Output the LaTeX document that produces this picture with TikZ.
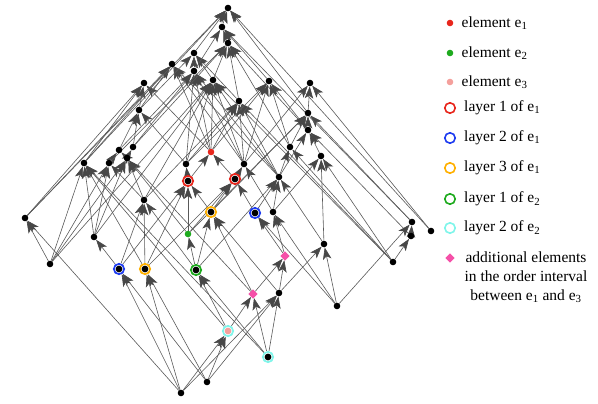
\documentclass[tikz,border=0pt]{standalone}
\usepackage{fontspec}
\setmainfont{Liberation Serif}
\usetikzlibrary{arrows.meta,shapes.geometric,positioning,backgrounds}

\definecolor{e1red}{HTML}{E8261C}
\definecolor{e2green}{HTML}{1EAA1E}
\definecolor{e3salmon}{HTML}{F4A09C}
\definecolor{ringblue}{HTML}{1E3CF0}
\definecolor{ringorange}{HTML}{FFB000}
\definecolor{ringcyan}{HTML}{80F5EA}
\definecolor{addpink}{HTML}{F550A8}

\begin{document}
\begin{tikzpicture}[
    x=1pt, y=-1pt,
    elem/.style={circle, fill=black, inner sep=0pt, minimum size=6.6pt},
    dot/.style={circle, fill=#1, inner sep=0pt, minimum size=6.6pt},
    ring/.style={circle, draw=#1, line width=1.7pt, fill=white, inner sep=0pt, minimum size=10.4pt,
        path picture={\fill[black] (path picture bounding box.center) circle (3.4pt);}},
    legring/.style={circle, draw=#1, line width=1.6pt, fill=white, inner sep=0pt, minimum size=10.4pt},
    extra/.style={diamond, fill=addpink, inner sep=0pt, minimum size=9.5pt},
    legtext/.style={font=\fontsize{15.5}{19}\selectfont, inner sep=0pt},
    arrow/.style={draw=black!65, line width=0.6pt, -{Stealth[length=12pt, width=8.5pt, inset=3pt, color=black!72]}}
]
\useasboundingbox (0,0) rectangle (598,404);

% Top part
\node[elem] (t) at (228,8) {};
\node[elem] (a1) at (222,27) {};
\node[elem] (a2) at (228,43) {};
\node[elem] (b1) at (194,53) {};
\node[elem] (b2) at (172,64) {};
\node[elem] (b3) at (194,71) {};
\node[elem] (b4) at (213,80) {};
\node[elem] (b5) at (269,81) {};
\node[elem] (b6) at (310,83) {};
\node[elem] (c1) at (144,83) {};
\node[elem] (c2) at (239,101) {};
\node[elem] (c3) at (308,113) {};
\node[elem] (c4) at (308,130) {};
\node[elem] (c5) at (139,110) {};

% Middle part
\node[elem] (d1) at (290,147) {};
\node[elem] (d2) at (321,156) {};
\node[elem] (d3) at (244,164) {};
\node[elem] (d4) at (279,177) {};
\node[elem] (d5) at (119,150) {};
\node[elem] (d6) at (133,147) {};
\node[elem] (d7) at (84,163) {};
\node[elem] (d8) at (109,163) {};
\node[elem] (d9) at (186,164) {};
\node[elem] (d10) at (127,158) {};
\node[dot=e1red] (e1) at (211,152) {};
\node[ring=e1red] (l1a) at (188,181) {};
\node[ring=e1red] (l1b) at (235,179) {};
\node[elem] (k) at (144,200) {};
\node[elem] (f1) at (25,218) {};
\node[elem] (f2) at (50,264) {};
\node[elem] (f3) at (94,237) {};
\node[ring=ringblue] (l2a) at (119,269) {};
\node[ring=ringblue] (l2b) at (255,213) {};
\node[ring=ringorange] (l3a) at (145,269) {};
\node[ring=ringorange] (l3b) at (211,212) {};
\node[dot=e2green] (e2) at (188,234) {};
\node[ring=e2green] (m1) at (196,270) {};
\node[elem] (g1) at (273,212) {};
\node[elem] (g2) at (324,244) {};

% Lower part
\node[extra] (p1) at (285,256) {};
\node[extra] (p2) at (253,294) {};
\node[elem] (h1) at (279,293) {};
\node[elem] (h2) at (337,306) {};
\node[ring=ringcyan, path picture={\fill[e3salmon] (path picture bounding box.center) circle (3.4pt);}] (e3) at (228,331) {};
\node[ring=ringcyan] (m2) at (268,357) {};
\node[elem] (z1) at (181,393) {};
\node[elem] (z2) at (207,382) {};

% Right group
\node[elem] (q1) at (412,222) {};
\node[elem] (q2) at (411,236) {};
\node[elem] (q3) at (431,231) {};
\node[elem] (q4) at (393,262) {};

% Covering relations
\begin{pgfonlayer}{background}
\draw[arrow] (q3) -- (t); \draw[arrow] (q3) -- (b6);
\draw[arrow] (a1) -- (t);
\draw[arrow] (c3) -- (t); \draw[arrow] (c3) -- (b6);
\draw[arrow] (q1) -- (c3); \draw[arrow] (q1) -- (a1);
\draw[arrow] (b5) -- (a1);
\draw[arrow] (a2) -- (a1);
\draw[arrow] (c4) -- (a2); \draw[arrow] (c4) -- (b5); \draw[arrow] (c4) -- (c3);
\draw[arrow] (q2) -- (c4); \draw[arrow] (q2) -- (q1);
\draw[arrow] (d2) -- (c4);
\draw[arrow] (d1) -- (a2); \draw[arrow] (d1) -- (b5); \draw[arrow] (d1) -- (c3);
\draw[arrow] (b1) -- (t);
\draw[arrow] (c2) -- (b1); \draw[arrow] (c2) -- (a2);
\draw[arrow] (b4) -- (b1); \draw[arrow] (b4) -- (a2);
\draw[arrow] (q4) -- (b4); \draw[arrow] (q4) -- (c2); \draw[arrow] (q4) -- (d1); \draw[arrow] (q4) -- (d2); \draw[arrow] (q4) -- (q2);
\draw[arrow] (b3) -- (b1); \draw[arrow] (b3) -- (a1);
\draw[arrow] (d4) -- (b2); \draw[arrow] (d4) -- (b3); \draw[arrow] (d4) -- (b4); \draw[arrow] (d4) -- (c2); \draw[arrow] (d4) -- (d1); \draw[arrow] (d4) -- (c4);
\draw[arrow] (d3) -- (b2); \draw[arrow] (d3) -- (b3); \draw[arrow] (d3) -- (b4); \draw[arrow] (d3) -- (c2); \draw[arrow] (d3) -- (b5); \draw[arrow] (d3) -- (b6);
\draw[arrow] (g2) -- (d4); \draw[arrow] (g2) -- (d2);
\draw[arrow] (g1) -- (d3); \draw[arrow] (g1) -- (d4); \draw[arrow] (g1) -- (d2);
\draw[arrow] (e1) -- (c1); \draw[arrow] (e1) -- (b2); \draw[arrow] (e1) -- (b3); \draw[arrow] (e1) -- (b4); \draw[arrow] (e1) -- (c2); \draw[arrow] (e1) -- (b5);
\draw[arrow] (l1b) -- (e1); \draw[arrow] (l1b) -- (d3);
\draw[arrow] (l2b) -- (l1b); \draw[arrow] (l2b) -- (d4);
\draw[arrow] (h2) -- (l2b); \draw[arrow] (h2) -- (g1); \draw[arrow] (h2) -- (g2); \draw[arrow] (h2) -- (q1);
\draw[arrow] (c5) -- (c1); \draw[arrow] (c5) -- (b2); \draw[arrow] (c5) -- (b1);
\draw[arrow] (p1) -- (l2b); \draw[arrow] (p1) -- (g1);
\draw[arrow] (d9) -- (c5); \draw[arrow] (d9) -- (b3); \draw[arrow] (d9) -- (b4); \draw[arrow] (d9) -- (c2); \draw[arrow] (d9) -- (b5);
\draw[arrow] (l1a) -- (d9); \draw[arrow] (l1a) -- (e1);
\draw[arrow] (l3b) -- (l1a); \draw[arrow] (l3b) -- (l1b); \draw[arrow] (l3b) -- (c3);
\draw[arrow] (d6) -- (c5); \draw[arrow] (d6) -- (b3); \draw[arrow] (d6) -- (a2);
\draw[arrow] (h1) -- (l3b); \draw[arrow] (h1) -- (p1); \draw[arrow] (h1) -- (g2);
\draw[arrow] (d5) -- (c5); \draw[arrow] (d5) -- (b3);
\draw[arrow] (d10) -- (d5); \draw[arrow] (d10) -- (d6);
\draw[arrow] (p2) -- (d10); \draw[arrow] (p2) -- (l3b); \draw[arrow] (p2) -- (p1);
\draw[arrow] (e2) -- (d10); \draw[arrow] (e2) -- (l1a); \draw[arrow] (e2) -- (l1b); \draw[arrow] (e2) -- (c3);
\draw[arrow] (d8) -- (d5); \draw[arrow] (d8) -- (a2);
\draw[arrow] (k) -- (d8); \draw[arrow] (k) -- (d10); \draw[arrow] (k) -- (b4); \draw[arrow] (k) -- (c2);
\draw[arrow] (m1) -- (k); \draw[arrow] (m1) -- (e2); \draw[arrow] (m1) -- (l3b); \draw[arrow] (m1) -- (d4);
\draw[arrow] (d7) -- (c1); \draw[arrow] (d7) -- (b2); \draw[arrow] (d7) -- (t);
\draw[arrow] (m2) -- (d7); \draw[arrow] (m2) -- (m1); \draw[arrow] (m2) -- (p2); \draw[arrow] (m2) -- (h1);
\draw[arrow] (e3) -- (d7); \draw[arrow] (e3) -- (m1); \draw[arrow] (e3) -- (p2);
\draw[arrow] (l3a) -- (d7); \draw[arrow] (l3a) -- (k); \draw[arrow] (l3a) -- (l1a); \draw[arrow] (l3a) -- (l1b);
\draw[arrow] (f3) -- (d7); \draw[arrow] (f3) -- (d8); \draw[arrow] (f3) -- (d10); \draw[arrow] (f3) -- (b4);
\draw[arrow] (l2a) -- (f3); \draw[arrow] (l2a) -- (k); \draw[arrow] (l2a) -- (l1a);
\draw[arrow] (z2) -- (l2a); \draw[arrow] (z2) -- (l3a); \draw[arrow] (z2) -- (e3); \draw[arrow] (z2) -- (h1);
\draw[arrow] (f1) -- (c1); \draw[arrow] (f1) -- (b2); \draw[arrow] (f1) -- (t);
\draw[arrow] (z1) -- (f1); \draw[arrow] (z1) -- (l2a); \draw[arrow] (z1) -- (l3a); \draw[arrow] (z1) -- (e3); \draw[arrow] (z1) -- (h1);
\draw[arrow] (f2) -- (f1); \draw[arrow] (f2) -- (d7); \draw[arrow] (f2) -- (d8); \draw[arrow] (f2) -- (d10); \draw[arrow] (f2) -- (b4);
\end{pgfonlayer}

% Legend
\node[dot=e1red] (key1) at (450,23) {};
\node[legtext, right=8pt of key1] (txt1) {element e\textsubscript{1}};
\node[dot=e2green] (key2) at (450,53) {};
\node[legtext, right=8pt of key2] (txt2) {element e\textsubscript{2}};
\node[dot=e3salmon] (key3) at (450,82) {};
\node[legtext, right=8pt of key3] (txt3) {element e\textsubscript{3}};
\node[legring=e1red] (key4) at (450,108) {};
\node[legtext, right=8pt of key4] (txt4) {layer 1 of e\textsubscript{1}};
\node[legring=ringblue] (key5) at (450,138) {};
\node[legtext, right=8pt of key5] (txt5) {layer 2 of e\textsubscript{1}};
\node[legring=ringorange] (key6) at (450,168) {};
\node[legtext, right=8pt of key6] (txt6) {layer 3 of e\textsubscript{1}};
\node[legring=e2green] (key7) at (450,199) {};
\node[legtext, right=8pt of key7] (txt7) {layer 1 of e\textsubscript{2}};
\node[legring=ringcyan] (key8) at (450,228) {};
\node[legtext, right=8pt of key8] (txt8) {layer 2 of e\textsubscript{2}};
\node[extra] (key9) at (450,258) {};
\node[legtext, align=center] (txt9) at (526,277) {additional elements\\in the order interval\\between e\textsubscript{1} and e\textsubscript{3}};

\end{tikzpicture}
\end{document}
